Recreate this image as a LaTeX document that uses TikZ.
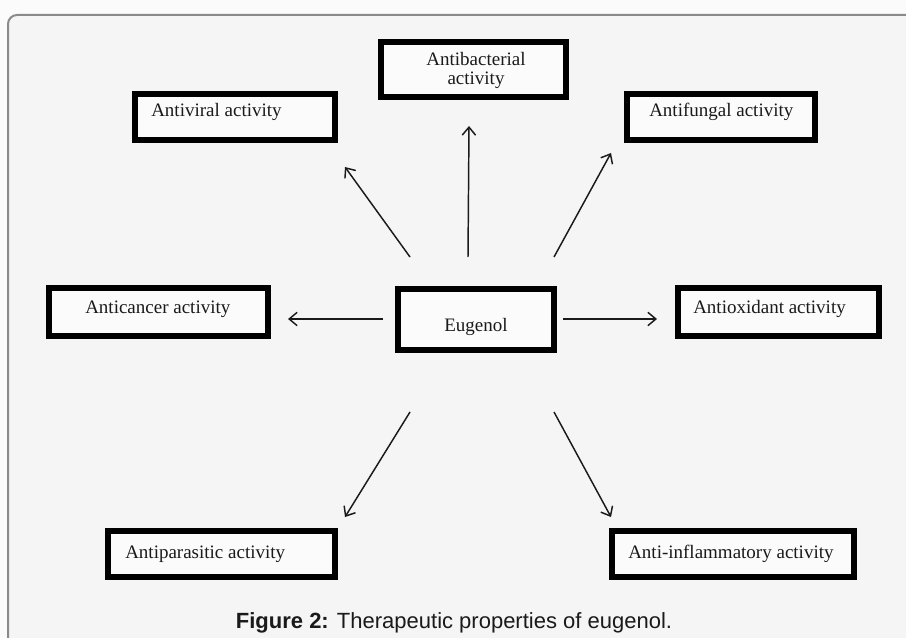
\documentclass[tikz,border=0pt]{standalone}
\usepackage{fontspec}
\setmainfont{Liberation Serif}
\newfontfamily\capfont{Liberation Sans}
\usetikzlibrary{arrows.meta}
\definecolor{pagebg}{HTML}{FBFBFB}
\definecolor{framebg}{HTML}{F5F5F5}
\definecolor{framecol}{HTML}{8A8A8A}
\definecolor{ink}{HTML}{1A1A1A}
\tikzset{
  boxline/.style={draw=black, line width=4.5pt, fill=white!60!framebg},
  lbl/.style={inner sep=0pt, text=ink, font=\fontsize{14.25}{19}\selectfont},
  conn/.style={draw=ink, line width=1.1pt, -{Straight Barb[length=6pt,width=10pt,line width=1.1pt]}},
}
\begin{document}
\begin{tikzpicture}[x=0.75pt,y=-0.75pt]
\useasboundingbox (0,0) rectangle (906,638);
\fill[pagebg] (0,0) rectangle (906,638);
\fill[framebg] (8,638) -- (8,24) arc[start angle=180,end angle=270,radius=9] -- (906,15) -- (906,638) -- cycle;
\draw[framecol, line width=1.5pt] (8,638) -- (8,24) arc[start angle=180,end angle=270,radius=9] -- (906,15);

% boxes
\path[boxline] (381,42) rectangle (566,97);
\path[boxline] (135,94) rectangle (335,140);
\path[boxline] (627,94) rectangle (815,140);
\path[boxline] (49,288) rectangle (268,336);
\path[boxline] (398,289) rectangle (554,350);
\path[boxline] (678,288) rectangle (879,336);
\path[boxline] (108,531) rectangle (335,577);
\path[boxline] (612,531) rectangle (854,577);

% texts
\node[lbl, anchor=base] (tbac1) at (476,66) {Antibacterial};
\node[lbl, anchor=base] (tbac2) at (476,85) {activity};
\node[lbl, anchor=base west] (tvir) at (151,117) {Antiviral activity};
\node[lbl, anchor=base west] (tfun) at (649,117) {Antifungal activity};
\node[lbl, anchor=base west] (tcan) at (85,313) {Anticancer activity};
\node[lbl, anchor=base] (teug) at (476,331) {Eugenol};
\node[lbl, anchor=base west] (tox) at (693,313) {Antioxidant activity};
\node[lbl, anchor=base west] (tpar) at (125,558) {Antiparasitic activity};
\node[lbl, anchor=base west] (tinf) at (628,558) {Anti-inflammatory activity};

% connector end points
\coordinate (upS) at (468,257);  \coordinate (upE) at (469,126);
\coordinate (ulS) at (410,257);  \coordinate (ulE) at (345,167);
\coordinate (urS) at (554,257);  \coordinate (urE) at (611,153);
\coordinate (lS) at (383,319);   \coordinate (lE) at (288,319);
\coordinate (rS) at (563,319);   \coordinate (rE) at (657,319);
\coordinate (dlS) at (410,412);  \coordinate (dlE) at (345,517);
\coordinate (drS) at (554,412);  \coordinate (drE) at (611,517);

\draw[conn] (upS) -- (upE);
\draw[conn] (ulS) -- (ulE);
\draw[conn] (urS) -- (urE);
\draw[conn] (lS) -- (lE);
\draw[conn] (rS) -- (rE);
\draw[conn] (dlS) -- (dlE);
\draw[conn] (drS) -- (drE);

% caption
\node[inner sep=0pt, anchor=base, text=ink, font=\capfont\fontsize{16.5}{20}\selectfont] (cap) at (454,628) {\textbf{Figure 2:} Therapeutic properties of eugenol.};
\end{tikzpicture}
\end{document}
